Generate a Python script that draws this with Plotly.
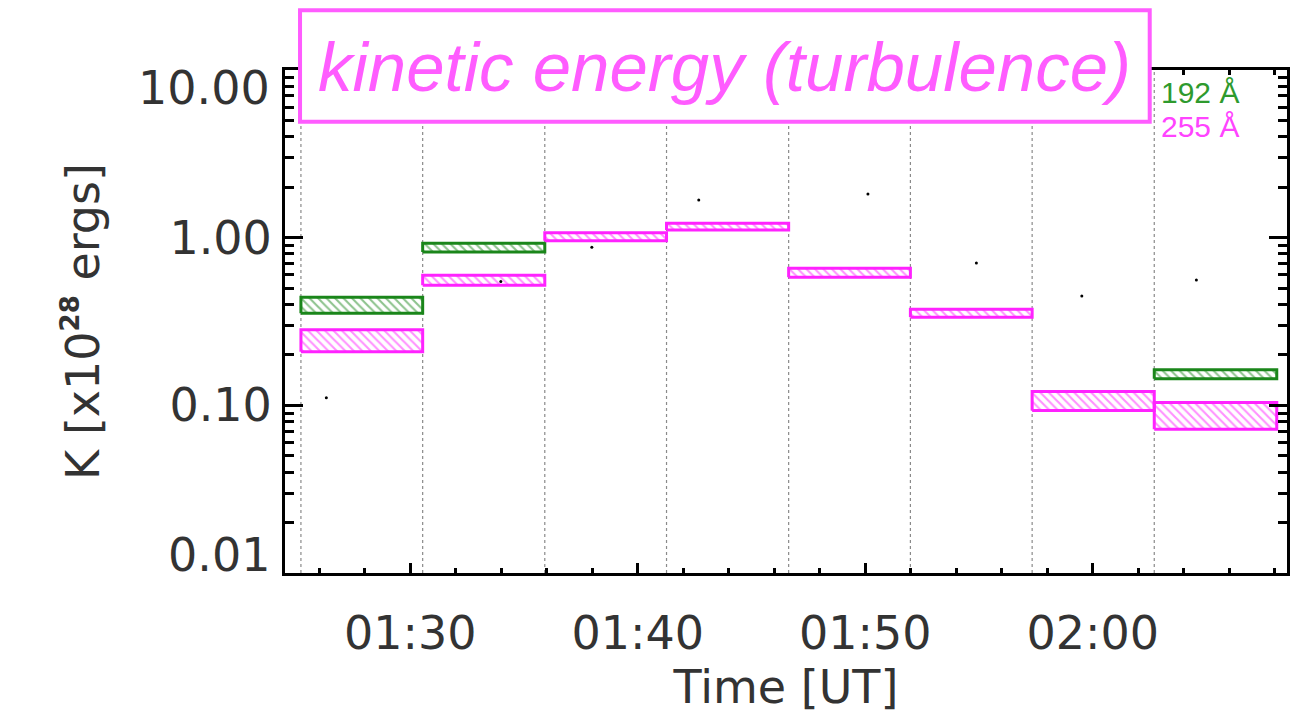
import math
import plotly.graph_objects as go

DAY = "2013-01-01 "

# interval boundaries (UT)
interval_start = ["01:25:12", "01:30:33", "01:35:55", "01:41:16",
                  "01:46:38", "01:51:59", "01:57:20", "02:02:42"]
interval_end = ["01:30:33", "01:35:55", "01:41:16", "01:46:38",
                "01:51:59", "01:57:20", "02:02:42", "02:08:05"]

# kinetic energy ranges [x10^28 ergs]
k192_low = [0.354, 0.82, None, None, None, None, None, 0.144]
k192_high = [0.441, 0.925, None, None, None, None, None, 0.163]
k255_low = [0.209, 0.52, 0.96, 1.11, 0.581, 0.335, 0.093, 0.072]
k255_high = [0.282, 0.597, 1.07, 1.22, 0.657, 0.374, 0.121, 0.104]

# stray black points
dot_times = ["01:26:19", "01:33:59", "01:37:59", "01:42:41",
             "01:50:07", "01:54:53", "01:59:31", "02:04:33"]
dot_values = [0.111, 0.547, 0.877, 1.68, 1.82, 0.706, 0.449, 0.56]

y_ticks = [0.01, 0.1, 1, 10]
x_ticks = ["01:30", "01:40", "01:50", "02:00"]

GREEN = "#1a861a"
PINK = "#ff22ff"
TITLE_PINK = "#ff5cff"


def boxes(lows, highs):
    xs, ys = [], []
    for s, e, lo, hi in zip(interval_start, interval_end, lows, highs):
        if lo is None:
            continue
        xs += [DAY + s, DAY + e, DAY + e, DAY + s, DAY + s, None]
        ys += [lo, lo, hi, hi, lo, None]
    return xs, ys


fig = go.Figure()

# dotted interval separators
gx, gy = [], []
for s in interval_start:
    gx += [DAY + s, DAY + s, None]
    gy += [0.01, 10, None]
fig.add_trace(go.Scatter(x=gx, y=gy, mode="lines",
                         line=dict(color="#8a8a8a", width=1.2, dash="dot"),
                         hoverinfo="skip", showlegend=False))

for lows, highs, col, name in [(k192_low, k192_high, GREEN, "192 Å"),
                               (k255_low, k255_high, PINK, "255 Å")]:
    bx, by = boxes(lows, highs)
    fig.add_trace(go.Scatter(
        x=bx, y=by, mode="lines", fill="toself", name=name,
        line=dict(color=col, width=3),
        fillcolor="white",
        fillpattern=dict(shape="\\", fgcolor=col, bgcolor="white",
                         size=6, solidity=0.35),
        showlegend=False))

fig.add_trace(go.Scatter(x=[DAY + t for t in dot_times], y=dot_values,
                         mode="markers", marker=dict(color="black", size=3),
                         showlegend=False))

axis_font = dict(family="DejaVu Sans", size=46, color="#333333")

fig.update_xaxes(
    type="date",
    range=[DAY + "01:24:30", DAY + "02:08:32"],
    tickvals=[DAY + t for t in x_ticks],
    ticktext=x_ticks,
    ticks="inside", ticklen=10, tickwidth=3, tickcolor="black",
    minor=dict(ticks="inside", ticklen=5, tickwidth=3, tickcolor="black",
               dtick=120000, tick0=DAY + "01:30"),
    showline=True, linecolor="black", linewidth=3, mirror="ticks",
    showgrid=False, zeroline=False, automargin=False,
    tickfont=axis_font, ticklabelstandoff=18,
    title=dict(text="Time [UT]", font=axis_font, standoff=7),
)

# inner tick labels by the axis, end labels pulled inside as in the original
inner = [v for v in y_ticks if v not in (min(y_ticks), max(y_ticks))]
fig.update_yaxes(
    type="log", range=[-2, 1],
    tickvals=y_ticks,
    ticktext=[f"{v:.2f}" if v in inner else " " for v in y_ticks],
    ticks="inside", ticklen=18, tickwidth=3, tickcolor="black",
    minor=dict(ticks="inside", ticklen=9, tickwidth=3, tickcolor="black",
               dtick="D1"),
    showline=True, linecolor="black", linewidth=3, mirror="ticks",
    showgrid=False, zeroline=False, automargin=False,
    tickfont=axis_font, ticklabelstandoff=1,
    title=dict(text="K [x10<sup><span style='font-size:26px'><b>28</b>"
                    "</span></sup> ergs]", font=axis_font, standoff=56),
)
for v, shift in [(max(y_ticks), -18), (min(y_ticks), 18)]:
    fig.add_annotation(text=f"{v:.2f}", xref="paper", yref="y",
                       x=0, y=math.log10(v), yshift=shift,
                       xanchor="right", yanchor="middle", xshift=-13,
                       showarrow=False, font=axis_font)

# title box
fig.add_shape(type="rect", xref="paper", yref="paper",
              x0=0.015, x1=0.863, y0=0.897, y1=1.119,
              line=dict(color=TITLE_PINK, width=4), fillcolor="white",
              layer="above")
fig.add_annotation(text="<i>kinetic energy (turbulence)</i>",
                   xref="paper", yref="paper", x=0.439, y=1.005,
                   showarrow=False, xanchor="center", yanchor="middle",
                   font=dict(family="Liberation Sans", size=69,
                             color=TITLE_PINK))

# channel labels
fig.add_annotation(text="192 Å", xref="paper", yref="paper",
                   x=0.872, y=0.955, xanchor="left", yanchor="middle",
                   showarrow=False,
                   font=dict(family="Liberation Sans Narrow, Liberation Sans",
                             size=30, color="#2e9a2e"))
fig.add_annotation(text="255 Å", xref="paper", yref="paper",
                   x=0.872, y=0.888, xanchor="left", yanchor="middle",
                   showarrow=False,
                   font=dict(family="Liberation Sans Narrow, Liberation Sans",
                             size=30, color="#ff44ff"))

# page body has an 8 px default margin: compensate in the plot margins
fig.update_layout(
    width=1304, height=727,
    margin=dict(l=277, r=25, t=62, b=162),
    paper_bgcolor="white", plot_bgcolor="white",
    showlegend=False,
)

fig.write_html("out.html")
